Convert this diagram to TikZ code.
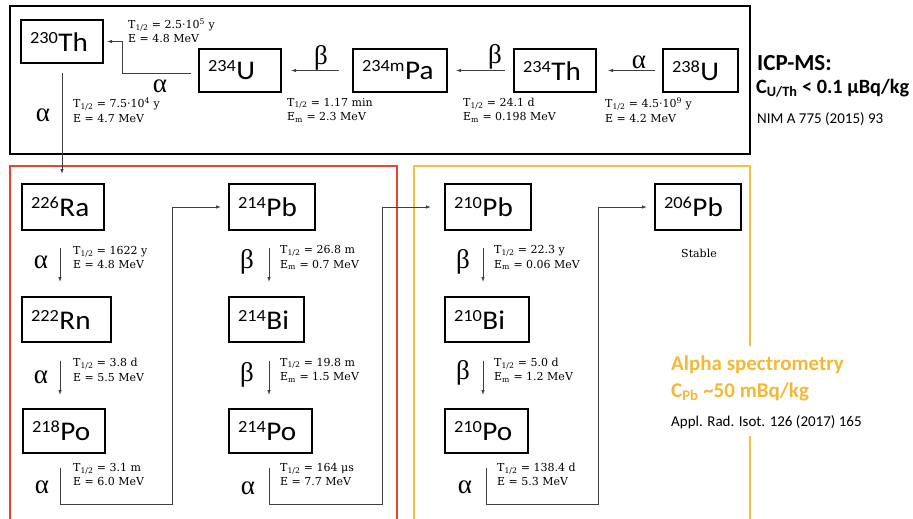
\documentclass[tikz,border=0pt]{standalone}
\usepackage{fontspec}
\setmainfont{DejaVu Serif}
\newfontfamily\nucfont{Carlito}
\newfontfamily\grkfont{Liberation Serif}
\usetikzlibrary{arrows.meta,calc}
\definecolor{redbox}{HTML}{E8442F}
\definecolor{yelbox}{HTML}{F4C142}
\definecolor{orgtext}{HTML}{F3B935}
\newcommand\iso[2]{\scalebox{1.08}[1]{\raisebox{8pt}{\fontsize{17}{17}\selectfont #1}\kern0.5pt{\fontsize{27}{27}\selectfont #2}}}
\newcommand\Thalf{T\textsubscript{1/2}}
\newcommand\Em{E\textsubscript{m}}
\begin{document}
\begin{tikzpicture}[x=1pt,y=-1pt,
  nuc/.style={draw, line width=2pt, inner xsep=9pt, inner ysep=0pt, align=left, font=\nucfont, text width=#1},
  info/.style={anchor=west, inner sep=0pt, align=left, font=\fontsize{11}{14.5}\selectfont},
  grk/.style={inner sep=0pt, font=\grkfont\fontsize{27}{27}\selectfont},
  conn/.style={draw=black!75, line width=0.8pt},
  arr/.style={conn, -{Latex[length=5pt,width=3.5pt]}}]
\useasboundingbox (0,0) rectangle (913,519);
% frames
\draw[line width=2.3pt] (10,6) rectangle (750,154);
\draw[redbox, line width=2pt] (10,525) -- (10,166) -- (397,166) -- (397,525);
\draw[yelbox, line width=2pt] (750,346) -- (750,166) -- (414,166) -- (414,525);
\draw[yelbox, line width=2pt] (750,436) -- (750,525);
% top row nuclides
\node[nuc=64pt, minimum height=43pt] (th230) at (62,41.5) {\iso{230}{Th}};
\node[nuc=64pt, minimum height=43pt] (u234) at (240,70.5) {\iso{234}{U}};
\node[nuc=76pt, minimum height=43pt] (pa234) at (400,70.5) {\iso{234m}{Pa}};
\node[nuc=64pt, minimum height=43pt] (th234) at (555,70.5) {\iso{234}{Th}};
\node[nuc=57pt, minimum height=43pt] (u238) at (700.5,70.5) {\iso{238}{U}};
% lower nuclides
\node[nuc=64pt, minimum height=46pt] (ra226) at (63,207) {\iso{226}{Ra}};
\node[nuc=71pt, minimum height=45pt] (rn222) at (66.5,319.5) {\iso{222}{Rn}};
\node[nuc=64pt, minimum height=44pt] (po218) at (64,431) {\iso{218}{Po}};
\node[nuc=68pt, minimum height=46pt] (pb214) at (272,207) {\iso{214}{Pb}};
\node[nuc=57pt, minimum height=45pt] (bi214) at (266.5,319.5) {\iso{214}{Bi}};
\node[nuc=65pt, minimum height=44pt] (po214) at (270.5,431) {\iso{214}{Po}};
\node[nuc=68pt, minimum height=46pt] (pb210) at (488,207) {\iso{210}{Pb}};
\node[nuc=66pt, minimum height=45pt] (bi210) at (487,319.5) {\iso{210}{Bi}};
\node[nuc=65pt, minimum height=44pt] (po210) at (486.5,431) {\iso{210}{Po}};
\node[nuc=68pt, minimum height=46pt] (pb206) at (698,207) {\iso{206}{Pb}};
% top connectors
\draw[arr] ($(u234.west)+(-7,2.5)$) -| ($(th230.east)+(18,0)$) -- ($(th230.east)+(3,0)$);
\draw[arr] ($(pa234.west)+(-13,0)$) -- ($(u234.east)+(9,0)$);
\draw[arr] ($(th234.west)+(-8,0)$) -- ($(pa234.east)+(8,0)$);
\draw[arr] ($(u238.west)+(-7,0)$) -- ($(th234.east)+(11,0)$);
\draw[arr] ($(th230.south)+(0,9)$) -- ($(ra226.north)+(-1,-9)$);
% column 1
\draw[arr] ($(ra226.south)+(-3,17)$) -- ($(rn222.north)+(-6.5,-14)$);
\draw[arr] ($(rn222.south)+(-6.5,18)$) -- ($(po218.north)+(-4,-13)$);
\draw[arr] ($(po218.south)+(-4,14)$) -- ++(0,36) -| ($(pb214.west)+(-56,0)$) -- ($(pb214.west)+(-7,0)$);
% column 2
\draw[arr] ($(pb214.south)+(-3,17)$) -- ($(bi214.north)+(2.5,-14)$);
\draw[arr] ($(bi214.south)+(2.5,18)$) -- ($(po214.north)+(-1.5,-13)$);
\draw[arr] ($(po214.south)+(-1.5,14)$) -- ++(0,36) -| ($(pb210.west)+(-62,0)$) -- ($(pb210.west)+(-13,0)$);
% column 3
\draw[arr] ($(pb210.south)+(-5,17)$) -- ($(bi210.north)+(-4,-14)$);
\draw[arr] ($(bi210.south)+(-4,18)$) -- ($(po210.north)+(-3.5,-13)$);
\draw[arr] ($(po210.south)+(-0.5,14)$) -- ++(0,36) -| ($(pb206.west)+(-56,0)$) -- ($(pb206.west)+(-7,0)$);
% greek labels top
\node[grk] (a1) at (160,86) {α};
\node[grk] (b1) at (321,58) {β};
\node[grk] (b2) at (495,57) {β};
\node[grk] (a2) at (639,62) {α};
\node[grk] (a3) at (43,115) {α};
% greek labels lower
\node[grk] (a4) at (41,262) {α};
\node[grk] (a5) at (41,377) {α};
\node[grk] (a6) at (42,487) {α};
\node[grk] (b3) at (247,262) {β};
\node[grk] (b4) at (247,375) {β};
\node[grk] (a7) at (248,488) {α};
\node[grk] (b5) at (463,262) {β};
\node[grk] (b6) at (463,373) {β};
\node[grk] (a8) at (465,487) {α};
% info texts top
\node[info] (i1) at (128,31) {\Thalf{} = 2.5·10\textsuperscript{5} y\\E = 4.8 MeV};
\node[info] (i2) at (73,110) {\Thalf{} = 7.5·10\textsuperscript{4} y\\E = 4.7 MeV};
\node[info] (i3) at (287,110) {\Thalf{} = 1.17 min\\\Em{} = 2.3 MeV};
\node[info] (i4) at (463,110) {\Thalf{} = 24.1 d\\\Em{} = 0.198 MeV};
\node[info] (i5) at (605,110) {\Thalf{} = 4.5·10\textsuperscript{9} y\\E = 4.2 MeV};
% info texts lower
\node[info] (i6) at (73,257.5) {\Thalf{} = 1622 y\\E = 4.8 MeV};
\node[info] (i7) at (73,370) {\Thalf{} = 3.8 d\\E = 5.5 MeV};
\node[info] (i8) at (73,474.5) {\Thalf{} = 3.1 m\\E = 6.0 MeV};
\node[info] (i9) at (280,257.5) {\Thalf{} = 26.8 m\\\Em{} = 0.7 MeV};
\node[info] (i10) at (280,370) {\Thalf{} = 19.8 m\\\Em{} = 1.5 MeV};
\node[info] (i11) at (280,474.5) {\Thalf{} = 164 μs\\E = 7.7 MeV};
\node[info] (i12) at (494,257.5) {\Thalf{} = 22.3 y\\\Em{} = 0.06 MeV};
\node[info] (i13) at (494,370) {\Thalf{} = 5.0 d\\\Em{} = 1.2 MeV};
\node[info] (i14) at (497,474.5) {\Thalf{} = 138.4 d\\E = 5.3 MeV};
\node[inner sep=0pt, font=\fontsize{11}{11}\selectfont] (stable) at (699,253) {Stable};
% right side texts
\node[anchor=west, inner sep=0pt, font=\nucfont\bfseries\fontsize{23}{23}\selectfont] (icp) at (757,63) {ICP-MS:};
\node[anchor=west, inner sep=0pt, font=\nucfont\bfseries\fontsize{20.3}{20.3}\selectfont] (cu) at (756,88) {C\textsubscript{U/Th} < 0.1 μBq/kg};
\node[anchor=west, inner sep=0pt, font=\nucfont\fontsize{15}{15}\selectfont] (nim) at (757,119) {NIM A 775 (2015) 93};
\node[anchor=west, inner sep=0pt, text=orgtext, font=\nucfont\bfseries\fontsize{21}{21}\selectfont] (alpha) at (671,365) {Alpha spectrometry};
\node[anchor=west, inner sep=0pt, text=orgtext, font=\nucfont\bfseries\fontsize{21}{21}\selectfont] (cpb) at (671,392) {C\textsubscript{Pb} \textasciitilde50 mBq/kg};
\node[anchor=west, inner sep=0pt, font=\nucfont\fontsize{15}{15}\selectfont] (appl) at (671,422) {Appl. Rad. Isot. 126 (2017) 165};
\end{tikzpicture}
\end{document}
